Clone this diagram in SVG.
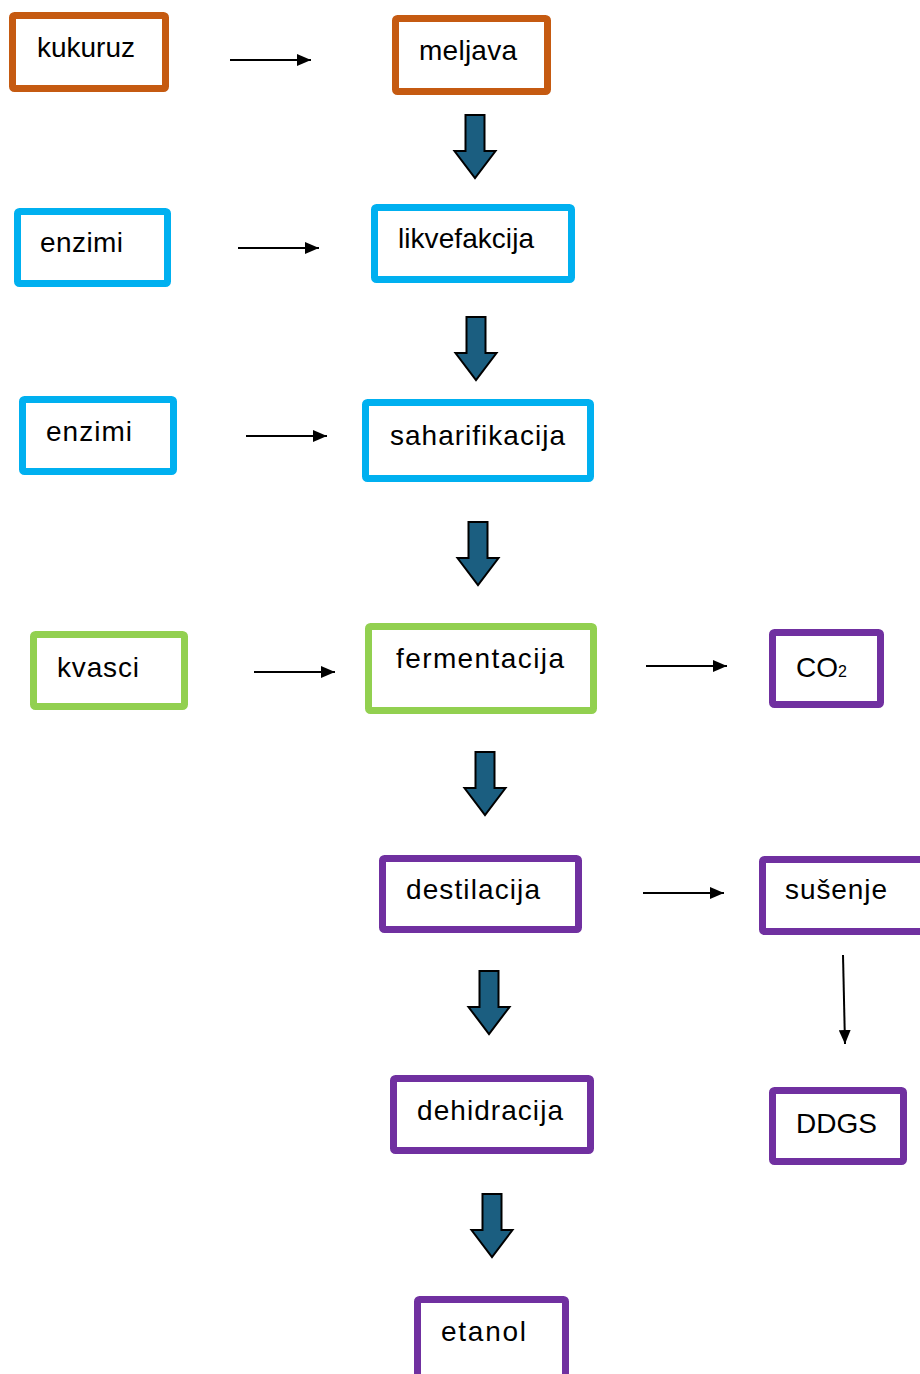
<svg xmlns="http://www.w3.org/2000/svg" width="920" height="1374" viewBox="0 0 920 1374">
<defs>
<style>
.box{fill:#fff;stroke-width:7;stroke-linejoin:round}
.o{stroke:#C55A11}.b{stroke:#00B0F0}.g{stroke:#92D050}.p{stroke:#7030A0}
text{font-family:"Liberation Sans",Arial,sans-serif;font-size:28px;fill:#000}
.ln{stroke:#000;stroke-width:2;fill:none;marker-end:url(#ah)}
.blk{fill:#1B5E80;stroke:#000;stroke-width:2;stroke-linejoin:miter}
</style>
<marker id="ah" viewBox="0 0 14 12" refX="14" refY="6" markerWidth="14" markerHeight="12" markerUnits="userSpaceOnUse" orient="auto">
<path d="M0,0 L14,6 L0,12 z" fill="#000"/>
</marker>
<path id="blk" d="M-9.5,0 H9.5 V36 H20.5 L0,63 L-20.5,36 H-9.5 Z"/>
</defs>
<g id="connectors">
<line class="ln" x1="230" y1="60" x2="311" y2="60"/>
<line class="ln" x1="238" y1="248" x2="319" y2="248"/>
<line class="ln" x1="246" y1="436" x2="327" y2="436"/>
<line class="ln" x1="254" y1="672" x2="335" y2="672"/>
<line class="ln" x1="646" y1="666" x2="727" y2="666"/>
<line class="ln" x1="643" y1="893" x2="724" y2="893"/>
<line class="ln" x1="843" y1="955" x2="845" y2="1044"/>
<use href="#blk" class="blk" x="475" y="115"/>
<use href="#blk" class="blk" x="476" y="317"/>
<use href="#blk" class="blk" x="478" y="522"/>
<use href="#blk" class="blk" x="485" y="752"/>
<use href="#blk" class="blk" x="489" y="971"/>
<use href="#blk" class="blk" x="492" y="1194"/>
</g>
<g id="kukuruz"><rect class="box o" x="12.5" y="15.5" width="153" height="73" rx="2"/><text x="37" y="57" textLength="98" lengthAdjust="spacing">kukuruz</text></g>
<g id="meljava"><rect class="box o" x="395.5" y="18.5" width="152" height="73" rx="2"/><text x="419" y="60" textLength="98" lengthAdjust="spacing">meljava</text></g>
<g id="enzimi1"><rect class="box b" x="17.5" y="211.5" width="150" height="72" rx="2"/><text x="40" y="252" textLength="83" lengthAdjust="spacing">enzimi</text></g>
<g id="likvefakcija"><rect class="box b" x="374.5" y="207.5" width="197" height="72" rx="2"/><text x="398" y="248" textLength="136" lengthAdjust="spacing">likvefakcija</text></g>
<g id="enzimi2"><rect class="box b" x="22.5" y="399.5" width="151" height="72" rx="2"/><text x="46" y="441" textLength="86" lengthAdjust="spacing">enzimi</text></g>
<g id="saharifikacija"><rect class="box b" x="365.5" y="402.5" width="225" height="76" rx="2"/><text x="390" y="445" textLength="175" lengthAdjust="spacing">saharifikacija</text></g>
<g id="kvasci"><rect class="box g" x="33.5" y="634.5" width="151" height="72" rx="2"/><text x="57" y="677" textLength="82" lengthAdjust="spacing">kvasci</text></g>
<g id="fermentacija"><rect class="box g" x="368.5" y="626.5" width="225" height="84" rx="2"/><text x="396" y="668" textLength="168" lengthAdjust="spacing">fermentacija</text></g>
<g id="co2"><rect class="box p" x="772.5" y="632.5" width="108" height="72" rx="2"/><text x="796" y="677">CO<tspan font-size="16">2</tspan></text></g>
<g id="destilacija"><rect class="box p" x="382.5" y="858.5" width="196" height="71" rx="2"/><text x="406" y="899" textLength="134" lengthAdjust="spacing">destilacija</text></g>
<g id="susenje"><rect class="box p" x="762.5" y="859.5" width="165" height="72" rx="2"/><text x="785" y="899" textLength="102" lengthAdjust="spacing">sušenje</text></g>
<g id="dehidracija"><rect class="box p" x="393.5" y="1078.5" width="197" height="72" rx="2"/><text x="417" y="1120" textLength="146" lengthAdjust="spacing">dehidracija</text></g>
<g id="ddgs"><rect class="box p" x="772.5" y="1090.5" width="131" height="71" rx="2"/><text x="796" y="1133" textLength="81" lengthAdjust="spacing">DDGS</text></g>
<g id="etanol"><rect class="box p" x="417.5" y="1299.5" width="148" height="80" rx="2"/><text x="441" y="1341" textLength="85" lengthAdjust="spacing">etanol</text></g>
</svg>
